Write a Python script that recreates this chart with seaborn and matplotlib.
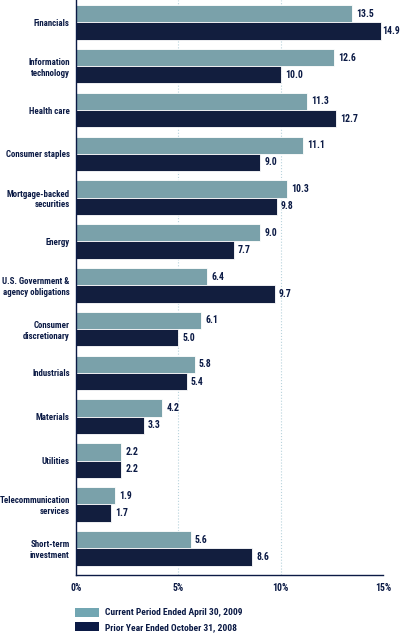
import pandas as pd
import matplotlib.pyplot as plt
import seaborn as sns
from matplotlib.patches import Patch

sectors = ['Financials', 'Information\ntechnology', 'Health care', 'Consumer staples',
           'Mortgage-backed\nsecurities', 'Energy', 'U.S. Government &\nagency obligations',
           'Consumer\ndiscretionary', 'Industrials', 'Materials', 'Utilities',
           'Telecommunication\nservices', 'Short-term\ninvestment']
current = [13.5, 12.6, 11.3, 11.1, 10.3, 9.0, 6.4, 6.1, 5.8, 4.2, 2.2, 1.9, 5.6]
prior = [14.9, 10.0, 12.7, 9.0, 9.8, 7.7, 9.7, 5.0, 5.4, 3.3, 2.2, 1.7, 8.6]
series = ['Current Period Ended April 30, 2009', 'Prior Year Ended October 31, 2008']
xticks = [0, 5, 10, 15]

light = '#72a6b2'
dark = '#0b1a45'

df = pd.DataFrame({
    'sector': sectors * 2,
    'value': current + prior,
    'period': [series[0]] * len(sectors) + [series[1]] * len(sectors),
})

sns.set_style('white')
plt.rcParams['font.family'] = ['Roboto Condensed', 'DejaVu Sans']

fig = plt.figure(figsize=(4, 6.35), dpi=100)
ax = fig.add_axes([0.19, 0.0945, 0.768, 0.9055])

sns.barplot(data=df, y='sector', x='value', hue='period', orient='h',
            palette=[light, dark], width=0.79, edgecolor='white', linewidth=0.6,
            ax=ax, legend=False)

# value labels
for cont in ax.containers:
    anns = ax.bar_label(cont, fmt='%.1f', padding=3, fontsize=7, fontweight='bold', color=dark)
    # the longest bar has its label squeezed against it, as in the original
    for a in anns:
        if a.get_text() == f'{max(prior):.1f}' and cont is ax.containers[1]:
            a.xyann = (0.8, 0)

ax.set_xlim(0, 15)
ax.set_ylim(12.61, -0.51)
ax.set_xticks(xticks)
ax.set_xticklabels([f'{t}%' for t in xticks], fontsize=7, fontweight='bold', color=dark)
ax.set_yticks(range(len(sectors)))
ax.set_yticklabels(sectors, fontsize=6.4, fontweight='bold', color=dark, linespacing=1.25)
ax.tick_params(axis='y', length=0, pad=4.5)
ax.tick_params(axis='x', length=0, pad=6)
ax.set_xlabel('')
ax.set_ylabel('')

for x in [5, 10]:
    ax.axvline(x, color='#b8d3dc', linestyle=':', linewidth=0.8, zorder=0)

for s in ['top', 'right']:
    ax.spines[s].set_visible(False)
for s in ['left', 'bottom']:
    ax.spines[s].set_color(dark)
    ax.spines[s].set_linewidth(1)

handles = [Patch(facecolor=light, edgecolor='none'), Patch(facecolor=dark, edgecolor='none')]
leg = fig.legend(handles, series, loc='upper left', bbox_to_anchor=(0.1875, 0.043),
                 frameon=False, handlelength=2.5, handleheight=1.1, borderpad=0,
                 borderaxespad=0, handletextpad=0.65, labelspacing=0.5,
                 prop={'weight': 'bold', 'size': 6.8})
for t in leg.get_texts():
    t.set_color(dark)

fig.savefig('out.png', dpi=100)
